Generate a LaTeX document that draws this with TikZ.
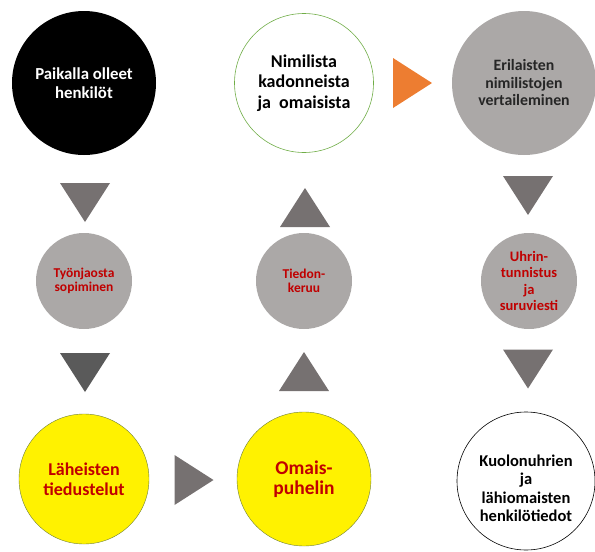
\documentclass[tikz,border=0pt]{standalone}
\usepackage{fontspec}
\setmainfont{Carlito}
\usetikzlibrary{shapes, calc, positioning}
\definecolor{circgray}{HTML}{ABA8A7}
\definecolor{trigray}{HTML}{767171}
\definecolor{tridark}{HTML}{5A5A5A}
\definecolor{txtred}{HTML}{C00000}
\definecolor{arrorange}{HTML}{ED7D31}
\definecolor{ringgreen}{HTML}{70AD47}
\definecolor{ringolive}{HTML}{6E7F3A}

\begin{document}
\begin{tikzpicture}[x=1pt,y=-1pt,font=\bfseries,semithick]
	\tikzset{every node/.style={circle, inner sep=0pt, align=center}}
	\tikzset{big/.style={minimum size=144pt}, small/.style={minimum size=96pt},
		gray/.style={fill=circgray}, red/.style={text=txtred},
		fs/.style 2 args={font=\bfseries\fontsize{#1}{#2}\selectfont},
		tri/.pic={\fill (-19.5,-25) -- (19.5,0) -- (-19.5,25) -- cycle;}}
	\useasboundingbox (0,0) rectangle (595,552);
	\node[big, fill=black, text=white, fs={16.8}{19}] (0) at (84,83) {Paikalla olleet\\henkilöt};
	\node[minimum size=139pt, draw=ringgreen, fill=white, fs={18}{20.5}] (1) at (304,83) {Nimilista\\kadonneista\\ja\ \ omaisista};
	\node[big, gray, text=black!85, fs={15.8}{17.5}] (2) at (524,83) {Erilaisten\\nimilistojen\\vertaileminen};
	\node[small, gray, red, fs={13.5}{14.5}] (3) at (84,281) {Työnjaosta\\sopiminen};
	\node[small, gray, red, fs={13.5}{14.5}] (4) at (304,281) {Tiedon-\\keruu};
	\node[small, gray, red, fs={14.5}{16.3}] (5) at (529,281) {Uhrin-\\tunnistus\\ja\\suruviesti};
	\node[minimum size=130pt, fill=yellow, draw=ringolive, thin, red, fs={18}{20}] (6) at (84,479) {Läheisten\\tiedustelut};
	\node[minimum size=134pt, fill=yellow, draw=ringolive, thin, red, fs={19.5}{20}] (7) at (304,479) {Omais-\\puhelin};
	\node[minimum size=138pt, fill=white, draw=black] (8) at (526,481) {};
	\node[rectangle, fs={16.5}{18.5}] (8t) at ($(8)+(0,7.5)$) {Kuolonuhrien\\ja\\lähiomaisten\\henkilötiedot};
	% triangles between the circles
	\pic[trigray, rotate=-90] (t0) at (85,202.5) {tri};
	\pic[tridark, rotate=-90] (t3) at (85,372.5) {tri};
	\pic[trigray, rotate=90] (t7) at (304,371.5) {tri};
	\pic[trigray, rotate=90] (t4) at (305,207.5) {tri};
	\pic[arrorange] (t1) at (412.5,83) {tri};
	\pic[trigray, rotate=-90] (t2) at (528,195.5) {tri};
	\pic[trigray, rotate=-90] (t5) at (528,369) {tri};
	\pic[trigray] (t6) at (194,480) {tri};
\end{tikzpicture}
\end{document}
